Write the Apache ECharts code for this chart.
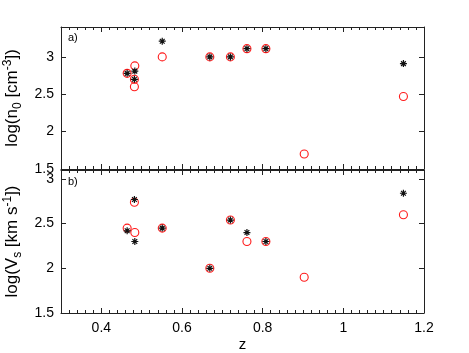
<!DOCTYPE html>
<html><head><meta charset="utf-8">
<script src="https://cdn.jsdelivr.net/npm/echarts@6/dist/echarts.min.js"></script>
<style>html,body{margin:0;padding:0;background:#fff}#c{width:469px;height:353px}</style>
</head><body><div id="c"></div>
<script>
// Panel a) log(n0)
const n0StarZ = [0.464, 0.483, 0.482, 0.551, 0.669, 0.720, 0.761, 0.808, 1.149];
const n0StarV = [2.78, 2.81, 2.70, 3.21, 3.00, 3.00, 3.11, 3.11, 2.91];
const n0CircZ = [0.464, 0.483, 0.482, 0.482, 0.551, 0.669, 0.720, 0.761, 0.808, 0.903, 1.149];
const n0CircV = [2.78, 2.88, 2.70, 2.60, 3.00, 3.00, 3.00, 3.11, 3.11, 1.70, 2.47];
// Panel b) log(Vs)
const vsStarZ = [0.464, 0.482, 0.483, 0.551, 0.669, 0.720, 0.761, 0.808, 1.149];
const vsStarV = [2.42, 2.77, 2.30, 2.45, 2.00, 2.54, 2.40, 2.30, 2.84];
const vsCircZ = [0.464, 0.482, 0.483, 0.551, 0.669, 0.720, 0.761, 0.808, 0.903, 1.149];
const vsCircV = [2.45, 2.74, 2.40, 2.45, 2.00, 2.54, 2.30, 2.30, 1.90, 2.60];
const xTicks = [0.4, 0.6, 0.8, 1, 1.2];
const yTicks = [1.5, 2, 2.5, 3];

const pair = (a, b) => a.map((v, i) => [v, b[i]]);
const FONT = 'Liberation Sans';
const AX = '#222';
const starPath = 'path://M5 0L5 10M0 5L10 5M1.6 1.6L8.4 8.4M8.4 1.6L1.6 8.4';

// main x axis: line, labels, small ticks every 0.02
function xAx(grid, labels, pos) {
  return {
    type: 'value', gridIndex: grid, min: 0.3, max: 1.2, interval: 0.1, position: pos,
    axisLine: {show: true, onZero: false, lineStyle: {color: AX, width: 1}},
    axisTick: {show: true, inside: true, length: 3, lineStyle: {color: AX}},
    minorTick: {show: true, splitNumber: 5, length: 3, lineStyle: {color: AX}},
    axisLabel: {show: labels, color: '#000', fontFamily: FONT, fontSize: 14, margin: 8,
      formatter: v => xTicks.some(t => Math.abs(t - v) < 1e-6) ? String(+v.toFixed(1)) : '',
      showMinLabel: false},
    splitLine: {show: false},
    name: labels ? 'z' : '', nameLocation: 'middle', nameGap: 24,
    nameTextStyle: {color: '#000', fontFamily: FONT, fontSize: 15}
  };
}
// overlay x axis: long ticks at major values only
function xMajor(grid, pos) {
  return {
    type: 'value', gridIndex: grid, min: 0.3, max: 1.2, interval: 0.1, position: pos,
    axisLine: {show: false, onZero: false},
    axisTick: {show: true, inside: true, length: 5, lineStyle: {color: AX}, customValues: xTicks},
    axisLabel: {show: false},
    splitLine: {show: false}
  };
}
function yAx(grid, max, labels, pos, nameRich) {
  return {
    type: 'value', gridIndex: grid, min: 1.5, max: max, interval: 0.5, position: pos,
    axisLine: {show: true, onZero: false, lineStyle: {color: AX, width: 1}},
    axisTick: {show: true, inside: true, length: 5, lineStyle: {color: AX}},
    axisLabel: {show: labels, color: '#000', fontFamily: FONT, fontSize: 14, margin: 7,
      showMaxLabel: false,
      formatter: v => yTicks.some(t => Math.abs(t - v) < 1e-6) ? String(v) : ''},
    splitLine: {show: false},
    name: labels ? nameRich : '', nameLocation: 'middle', nameGap: 24, nameRotate: 90,
    nameTextStyle: {color: '#000', fontFamily: FONT, fontSize: 17,
      rich: {
        n: {fontFamily: FONT, fontSize: 17, color: '#000', lineHeight: 24},
        sub: {fontFamily: FONT, fontSize: 12, color: '#000', lineHeight: 24, padding: [11, 0, 0, 0]},
        sup: {fontFamily: FONT, fontSize: 12, color: '#000', lineHeight: 24, padding: [0, 0, 9, 0]}
      }}
  };
}

const chart = echarts.init(document.getElementById('c'), null, {renderer: 'canvas'});
const starSeries = (data, xi, yi) => ({
  type: 'scatter', xAxisIndex: xi, yAxisIndex: yi, data,
  symbol: starPath, symbolSize: 7,
  itemStyle: {color: 'none', borderColor: '#111', borderWidth: 1.2, opacity: 1},
  z: 3, silent: true
});
const circSeries = (data, xi, yi) => ({
  type: 'scatter', xAxisIndex: xi, yAxisIndex: yi, data,
  symbol: 'circle', symbolSize: 8,
  itemStyle: {color: 'rgba(0,0,0,0)', borderColor: '#ff1a1a', borderWidth: 1.1, opacity: 1},
  z: 2, silent: true
});

chart.setOption({
  animation: false,
  backgroundColor: '#fff',
  title: [
    {text: 'a)', left: 63, top: 27, textStyle: {fontFamily: FONT, fontSize: 11, fontWeight: 'normal', color: '#000'}},
    {text: 'b)', left: 63, top: 171, textStyle: {fontFamily: FONT, fontSize: 11, fontWeight: 'normal', color: '#000'}}
  ],
  grid: [
    {left: 61, right: 45, top: 27, height: 142, outerBoundsMode: 'none', containLabel: false},
    {left: 61, right: 45, top: 170, height: 143, outerBoundsMode: 'none', containLabel: false}
  ],
  xAxis: [
    xAx(0, false, 'bottom'), xAx(1, true, 'bottom'),
    xAx(0, false, 'top'), xAx(1, false, 'top'),
    xMajor(0, 'bottom'), xMajor(1, 'bottom'),
    xMajor(0, 'top'), xMajor(1, 'top')
  ],
  yAxis: [
    yAx(0, 3.4, true, 'left', '{n|log(n}{sub|0}{n| [cm}{sup|-3}{n|])}'),
    yAx(1, 3.1, true, 'left', '{n|log(V}{sub|s}{n| [km s}{sup|-1}{n|])}'),
    yAx(0, 3.4, false, 'right', ''),
    yAx(1, 3.1, false, 'right', '')
  ],
  series: [
    circSeries(pair(n0CircZ, n0CircV), 0, 0),
    starSeries(pair(n0StarZ, n0StarV), 0, 0),
    circSeries(pair(vsCircZ, vsCircV), 1, 1),
    starSeries(pair(vsStarZ, vsStarV), 1, 1)
  ]
});
</script></body></html>
